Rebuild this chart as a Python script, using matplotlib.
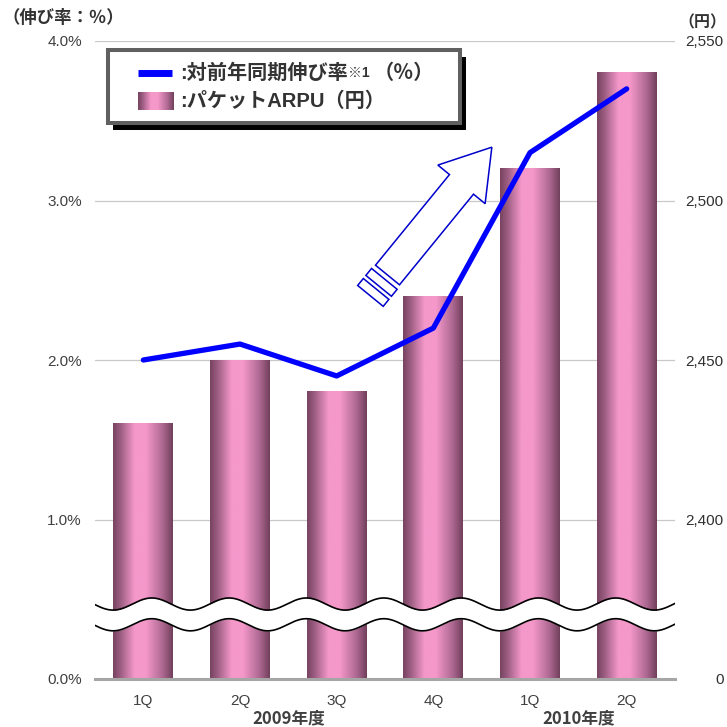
import numpy as np
import matplotlib
matplotlib.use('Agg')
import matplotlib.pyplot as plt
from matplotlib.colors import LinearSegmentedColormap
from matplotlib.patches import Rectangle, Polygon
from matplotlib.lines import Line2D

plt.rcParams['font.family'] = ['Liberation Sans', 'Noto Sans CJK JP']

quarters = ['1Q', '2Q', '3Q', '4Q', '1Q', '2Q']
fiscal_years = ['2009年度', '2010年度']
year_centers = [1.5, 4.5]
arpu_yen = [2430, 2450, 2440, 2470, 2510, 2540]
growth_pct = [2.0, 2.1, 1.9, 2.2, 3.3, 3.7]
pct_ticks = [0.0, 1.0, 2.0, 3.0, 4.0]
arpu_ticks = [0, 2400, 2450, 2500, 2550]

# right axis is broken: 0 at the floor, then 2,400..2,550 maps onto 1.0..4.0 of the left scale
ARPU_BASE, ARPU_STEP = 2400, 50


def arpu_to_scale(v):
    return 0.0 if v == 0 else 1.0 + (v - ARPU_BASE) / ARPU_STEP


W = 727
fig = plt.figure(figsize=(W / 100, W / 100), dpi=100)
ax = fig.add_axes([95 / W, 48 / W, 580 / W, 638 / W])

bar_shade = LinearSegmentedColormap.from_list('bar', [
    (0.0, '#774260'), (0.12, '#9a5c80'), (0.36, '#f598ca'),
    (0.55, '#f598ca'), (0.82, '#b06a94'), (1.0, '#713f5b')])
grad = np.linspace(0, 1, 256).reshape(1, -1)

x = np.arange(len(quarters))
heights = [arpu_to_scale(v) for v in arpu_yen]
bars = ax.bar(x, heights, width=0.62, color='none', zorder=2)
for b in bars:
    ax.imshow(grad, extent=[b.get_x(), b.get_x() + b.get_width(), 0, b.get_height()],
              cmap=bar_shade, aspect='auto', interpolation='bicubic', zorder=2)

# grid and floor
for yv in pct_ticks[1:]:
    ax.axhline(yv, color='#c8c8c8', lw=0.9, zorder=1)
ax.axhline(0, color='#a6a6a6', lw=2.2, zorder=3, clip_on=False)

# wavy axis-break band
xs = np.linspace(-0.5, 5.5, 800)
wave = -0.038 * np.cos(2 * np.pi * (xs + 0.313) / 0.8)
ax.fill_between(xs, 0.34 + wave, 0.47 + wave, color='white', zorder=4, lw=0)
ax.plot(xs, 0.47 + wave, color='black', lw=1.2, zorder=5)
ax.plot(xs, 0.34 + wave, color='black', lw=1.2, zorder=5)

ax.plot(x, growth_pct, color='#0000ff', lw=3.8, solid_capstyle='round',
        solid_joinstyle='round', zorder=6)

ax.set_xlim(-0.5, 5.5)
ax.set_ylim(0, 4)
for s in ax.spines.values():
    s.set_visible(False)
ax.set_yticks(pct_ticks, [f'{v:.1f}%' for v in pct_ticks])
ax.set_xticks(x, quarters)
ax.tick_params(axis='y', length=0, pad=9.5, labelsize=11, labelcolor='#404040')
ax.tick_params(axis='x', length=0, pad=10.5, labelsize=11, labelcolor='#404040')

ax2 = ax.twinx()
ax2.set_ylim(0, 4)
for s in ax2.spines.values():
    s.set_visible(False)
ax2.set_yticks([arpu_to_scale(v) for v in arpu_ticks], [f'{v:,}' for v in arpu_ticks])
ax2.tick_params(axis='y', length=0, pad=35, labelsize=11, labelcolor='#303030')
plt.setp(ax2.get_yticklabels(), ha='right')

for label, xc in zip(fiscal_years, year_centers):
    ax.text(xc, -0.061, label, transform=ax.get_xaxis_transform(), ha='center',
            va='center', fontsize=12, fontweight='bold', color='#404040',
            family=['Noto Sans CJK JP'])

fig.text(2 / W, 1 - 18 / W, '（伸び率：％）', ha='left', va='center', fontsize=12.5,
         fontweight='bold', color='#333333', family=['Noto Sans CJK JP'])
fig.text(678 / W, 1 - 22 / W, '（円）', ha='left', va='center', fontsize=11.5,
         fontweight='bold', color='#333333', family=['Noto Sans CJK JP'])

# upward hollow arrow with two tail bands
tail = np.array([387.5, 275.0])
tip = np.array([492.0, 147.0])
d = (tip - tail) / np.linalg.norm(tip - tail)
n = np.array([-d[1], d[0]])


def to_fig(uv):
    out = []
    for u, v in uv:
        p = tail + u * d + v * n
        out.append((p[0] / W, 1 - p[1] / W))
    return out


arrow_uv = [(0, -15.5), (117, -15.5), (117, -30.5), (165, 0), (117, 30.5), (117, 15.5), (0, 15.5)]
fig.add_artist(Polygon(to_fig(arrow_uv), closed=True, fc='white', ec='#0000cc', lw=1.1,
                       transform=fig.transFigure, zorder=2))
for u0, u1 in [(-5, -14), (-18, -27)]:
    band = [(u0, -16.5), (u0, 16.5), (u1, 16.5), (u1, -16.5)]
    fig.add_artist(Polygon(to_fig(band), closed=True, fc='white', ec='#0000cc', lw=1.1,
                           transform=fig.transFigure, zorder=2))

# legend box with drop shadow
fig.add_artist(Rectangle((113 / W, 1 - 130 / W), 353 / W, 73 / W, fc='black', lw=0,
                         transform=fig.transFigure, zorder=3))
fig.add_artist(Rectangle((108 / W, 1 - 123 / W), 352 / W, 73 / W, fc='white', ec='#606060',
                         lw=2.9, transform=fig.transFigure, zorder=3))
fig.add_artist(Line2D([138 / W, 172 / W], [1 - 73 / W] * 2, color='#0000ff', lw=5,
                      solid_capstyle='butt', transform=fig.transFigure, zorder=4))
sw = fig.add_axes([138 / W, 1 - 110 / W, 36 / W, 18 / W], zorder=5)
sw.imshow(grad, cmap=bar_shade, aspect='auto', interpolation='bicubic')
sw.axis('off')

renderer = fig.canvas.get_renderer()


def put_run(x_px, y_px, parts):
    for text, size in parts:
        t = fig.text(x_px / W, 1 - y_px / W, text, ha='left', va='center', fontsize=size,
                     fontweight='bold', color='#333333', zorder=6)
        x_px = t.get_window_extent(renderer).x1


put_run(180, 73, [(':対前年同期伸び率', 14.5), ('※1 ', 10), ('（％）', 14.5)])
put_run(180, 101, [(':パケットARPU（円）', 14.5)])

fig.savefig('out.png', dpi=100)
